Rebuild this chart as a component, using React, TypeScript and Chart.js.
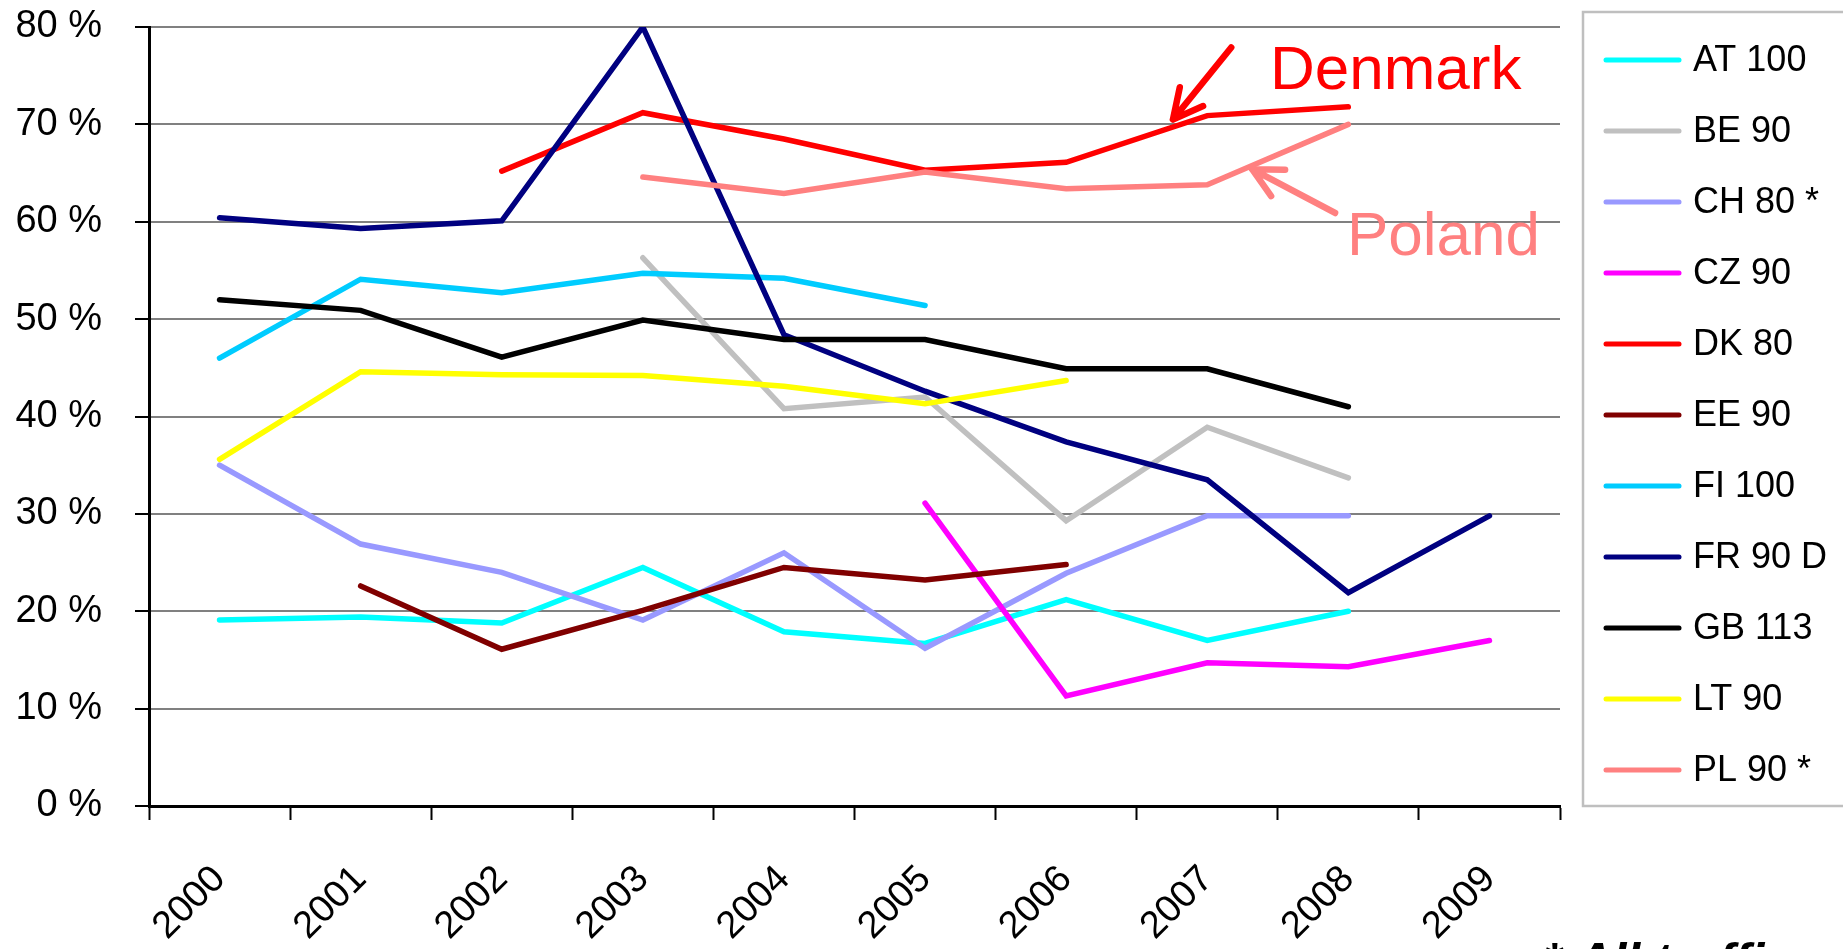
import { useEffect, useRef } from "react";
import { Chart, registerables } from "chart.js";

Chart.register(...registerables);

// ---------- data ----------
const years = ["2000", "2001", "2002", "2003", "2004", "2005", "2006", "2007", "2008", "2009"];
const yTickValues = [0, 10, 20, 30, 40, 50, 60, 70, 80];

const AT = [19.1, 19.4, 18.8, 24.5, 17.9, 16.7, 21.2, 17.0, 20.0, null];
const BE = [null, null, null, 56.3, 40.8, 42.0, 29.3, 38.9, 33.7, null];
const CH = [35.0, 26.9, 24.0, 19.1, 26.0, 16.2, 23.9, 29.8, 29.8, null];
const CZ = [null, null, null, null, null, 31.1, 11.3, 14.7, 14.3, 17.0];
const DK = [null, null, 65.2, 71.2, 68.5, 65.3, 66.1, 70.9, 71.8, null];
const EE = [null, 22.6, 16.1, 20.1, 24.5, 23.2, 24.8, null, null, null];
const FI = [46.0, 54.1, 52.7, 54.7, 54.2, 51.4, null, null, null, null];
const FR = [60.4, 59.3, 60.1, 80.0, 48.4, 42.6, 37.4, 33.5, 21.9, 29.8];
const GB = [52.0, 50.9, 46.1, 49.9, 47.9, 47.9, 44.9, 44.9, 41.0, null];
const LT = [35.6, 44.6, 44.3, 44.2, 43.1, 41.3, 43.7, null, null, null];
const PL = [null, null, null, 64.6, 62.9, 65.1, 63.4, 63.8, 70.0, null];

const seriesLabels = ["AT 100", "BE 90", "CH 80 *", "CZ 90", "DK 80", "EE 90", "FI 100", "FR 90 D", "GB 113", "LT 90", "PL 90 *"];
const seriesValues = [AT, BE, CH, CZ, DK, EE, FI, FR, GB, LT, PL];
const seriesColors = ["#00FFFF", "#C0C0C0", "#9999FF", "#FF00FF", "#FF0000", "#800000", "#00CCFF", "#000080", "#000000", "#FFFF00", "#FF8080"];

const footnote = "* All traffic";

// annotations (in data coordinates: category index, percent)
const notes = [
  { text: "Denmark", color: "#FF0000", at: [7.444, 73.6], from: [7.17, 77.9], to: [6.757, 70.5] },
  { text: "Poland", color: "#FF8080", at: [7.99, 56.6], from: [7.906, 60.9], to: [7.318, 65.4] },
];

// ---------- drawing helpers ----------
function drawArrow(ctx: CanvasRenderingContext2D, fx: number, fy: number, tx: number, ty: number, color: string) {
  const ang = Math.atan2(fy - ty, fx - tx);
  const head = 33;
  const spread = (27 * Math.PI) / 180;
  ctx.save();
  ctx.strokeStyle = color;
  ctx.lineWidth = 6.5;
  ctx.lineCap = "round";
  ctx.lineJoin = "round";
  ctx.beginPath();
  ctx.moveTo(fx, fy);
  ctx.lineTo(tx, ty);
  ctx.moveTo(tx + head * Math.cos(ang - spread), ty + head * Math.sin(ang - spread));
  ctx.lineTo(tx, ty);
  ctx.lineTo(tx + head * Math.cos(ang + spread), ty + head * Math.sin(ang + spread));
  ctx.stroke();
  ctx.restore();
}

const overlayPlugin = {
  id: "overlay",
  afterDatasetsDraw(chart: any) {
    const { ctx } = chart;
    const x = chart.scales.x;
    const y = chart.scales.y;
    notes.forEach((n) => {
      drawArrow(
        ctx,
        x.getPixelForValue(n.from[0]),
        y.getPixelForValue(n.from[1]),
        x.getPixelForValue(n.to[0]),
        y.getPixelForValue(n.to[1]),
        n.color
      );
      ctx.save();
      ctx.fillStyle = n.color;
      ctx.font = '62px "Liberation Sans", Arial, sans-serif';
      ctx.textAlign = "left";
      ctx.textBaseline = "alphabetic";
      ctx.fillText(n.text, x.getPixelForValue(n.at[0]), y.getPixelForValue(n.at[1]));
      ctx.restore();
    });
  },
  afterDraw(chart: any) {
    const { ctx, chartArea } = chart;
    // legend box
    const boxLeft = chartArea.right + 23;
    const boxTop = 12;
    const boxBottom = chartArea.bottom;
    ctx.save();
    ctx.strokeStyle = "#BFBFBF";
    ctx.lineWidth = 2.5;
    ctx.strokeRect(boxLeft, boxTop, chart.width + 20 - boxLeft, boxBottom - boxTop);
    const step = 71;
    seriesLabels.forEach((lab, i) => {
      const cy = 60 + step * i;
      ctx.strokeStyle = seriesColors[i];
      ctx.lineWidth = 5;
      ctx.lineCap = "round";
      ctx.beginPath();
      ctx.moveTo(boxLeft + 23, cy);
      ctx.lineTo(boxLeft + 96, cy);
      ctx.stroke();
      ctx.fillStyle = "#000";
      ctx.font = '36px "Liberation Sans", Arial, sans-serif';
      ctx.textAlign = "left";
      ctx.textBaseline = "middle";
      ctx.fillText(lab, boxLeft + 110, cy + 1);
    });
    // footnote
    ctx.fillStyle = "#000";
    ctx.font = 'italic bold 50px "Liberation Sans", Arial, sans-serif';
    ctx.textAlign = "left";
    ctx.textBaseline = "alphabetic";
    ctx.fillText(footnote, 1543, 978);
    ctx.restore();
  },
};

export default function App() {
  const canvasRef = useRef<HTMLCanvasElement | null>(null);

  useEffect(() => {
    const canvas = canvasRef.current;
    if (!canvas) return;
    const tickFont = { family: '"Liberation Sans", Arial, sans-serif', size: 38 };
    const chart = new Chart(canvas, {
      type: "line",
      data: {
        labels: years,
        datasets: seriesValues.map((vals, i) => ({
          label: seriesLabels[i],
          data: vals,
          borderColor: seriesColors[i],
          backgroundColor: seriesColors[i],
          borderWidth: 5.5,
          pointRadius: 0,
          pointHoverRadius: 0,
          tension: 0,
          fill: false,
          spanGaps: false,
          borderCapStyle: "round",
          borderJoinStyle: "miter",
          order: -i,
        })),
      },
      options: {
        responsive: false,
        animation: false,
        devicePixelRatio: 1,
        layout: { padding: { top: 27, right: 283, left: 0, bottom: 0 } },
        plugins: {
          legend: { display: false },
          tooltip: { enabled: false },
        },
        events: [],
        scales: {
          x: {
            type: "category",
            offset: true,
            grid: {
              offset: true,
              drawOnChartArea: false,
              drawTicks: true,
              tickLength: 14,
              tickColor: "#000",
              tickWidth: 2,
            },
            border: { color: "#000", width: 3 },
            ticks: {
              minRotation: 45,
              maxRotation: 45,
              autoSkip: false,
              padding: 37,
              color: "#000",
              font: tickFont,
            },
            afterFit: (s: any) => {
              s.height = 143;
              s.paddingLeft = 0;
              s.paddingRight = 0;
            },
          },
          y: {
            min: 0,
            max: 80,
            afterBuildTicks: (s: any) => {
              s.ticks = yTickValues.map((v) => ({ value: v }));
            },
            ticks: {
              padding: 33,
              color: "#000",
              font: tickFont,
              callback: (v: any) => `${v} %`,
            },
            grid: {
              color: "#808080",
              lineWidth: 2,
              tickLength: 14,
              tickColor: "#000",
              tickWidth: 2,
            },
            border: { color: "#000", width: 3 },
            afterFit: (s: any) => {
              s.width = 149;
              s.paddingTop = 0;
              s.paddingBottom = 0;
            },
          },
        },
      },
      plugins: [overlayPlugin],
    } as any);
    return () => chart.destroy();
  }, []);

  return (
    <div style={{ position: "fixed", left: 0, top: 0, width: 1843, height: 949, background: "#fff", overflow: "hidden" }}>
      <canvas ref={canvasRef} width={1843} height={949} style={{ display: "block" }} />
    </div>
  );
}
